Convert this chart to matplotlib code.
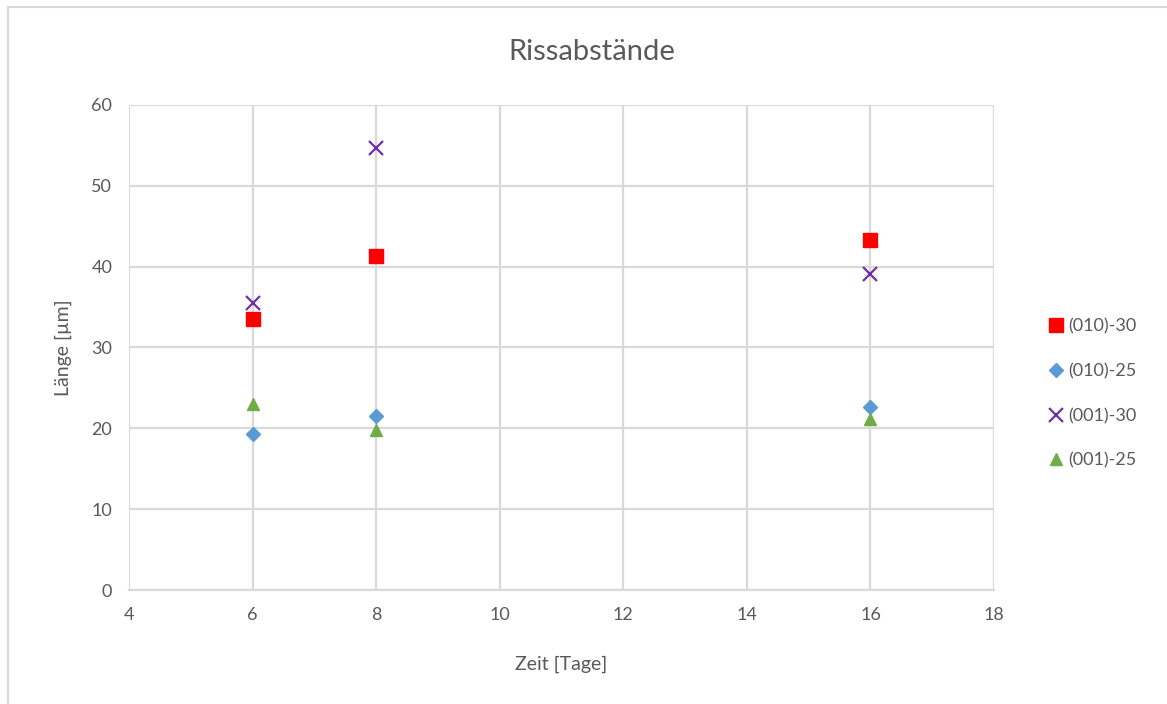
import matplotlib.pyplot as plt
from matplotlib.patches import Rectangle

plt.rcParams['font.family'] = ['Lato', 'DejaVu Sans']

tage = [6, 8, 16]
s010_30 = [33.5, 41.3, 43.3]
s010_25 = [19.3, 21.5, 22.6]
s001_30 = [35.5, 54.7, 39.1]
s001_25 = [23.0, 19.8, 21.2]

grau = '#595959'

fig = plt.figure(figsize=(11.67, 7.04), dpi=100)
ax = fig.add_axes([0.1105, 0.1619, 0.7413, 0.689])

# Rahmen des Diagramms (links und oben sichtbar)
fig.patches.append(Rectangle((8 / 1167, -0.1), 1.2, 1 - 7 / 704 + 0.1, transform=fig.transFigure,
                             fill=False, edgecolor='#d9d9d9', linewidth=1.5))

ax.plot(tage, s010_30, linestyle='none', marker='s', markersize=10, color='#ff0000', label='(010)-30')
ax.plot(tage, s010_25, linestyle='none', marker='D', markersize=7, color='#5b9bd5', label='(010)-25')
ax.plot(tage, s001_30, linestyle='none', marker='x', markersize=10, markeredgewidth=1.6, color='#7030a0', label='(001)-30')
ax.plot(tage, s001_25, linestyle='none', marker='^', markersize=9, color='#70ad47', label='(001)-25')

ax.set_xlim(4, 18)
ax.set_ylim(0, 60)
ax.set_xticks(range(4, 19, 2))
ax.set_yticks(range(0, 61, 10))
ax.grid(True, color='#d9d9d9', linewidth=1.6)
ax.set_axisbelow(True)
for side in ['top', 'right', 'left']:
    ax.spines[side].set_visible(False)
ax.spines['bottom'].set_color('#d9d9d9')
ax.spines['bottom'].set_linewidth(1.6)
ax.tick_params(length=0, labelsize=13, labelcolor=grau, pad=12)

ax.set_xlabel('Zeit [Tage]', fontsize=14, color=grau, labelpad=24)
ax.set_ylabel('Länge [µm]', fontsize=14, color=grau, labelpad=14)
fig.text(592 / 1167, 1 - 52 / 704, 'Rissabstände', fontsize=21, color=grau, ha='center', va='center')

leg = ax.legend(loc='center left', bbox_to_anchor=(1.04, 0.405), frameon=False, fontsize=13,
                labelspacing=1.58, handletextpad=0.1, handlelength=1.2)
for t in leg.get_texts():
    t.set_color(grau)

fig.savefig('out.png', dpi=100)
